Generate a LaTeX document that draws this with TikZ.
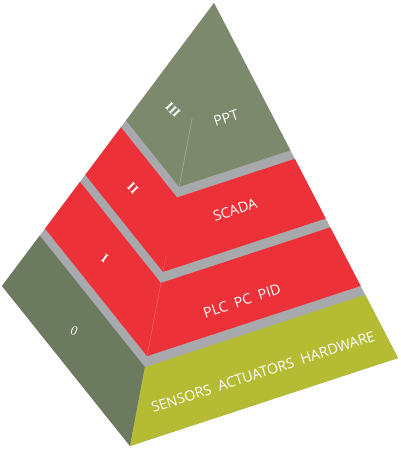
\documentclass[tikz,border=0pt]{standalone}
\usepackage{fontspec}
\setmainfont{Open Sans}
\newfontfamily\numfont{Liberation Serif}
\usetikzlibrary{calc}
\definecolor{topgreen}{RGB}{124,137,109}
\definecolor{sidegreen}{RGB}{108,122,96}
\definecolor{layerred}{RGB}{236,49,56}
\definecolor{olive}{RGB}{181,188,52}
\definecolor{stepgray}{RGB}{167,169,172}
\newcommand\pyrband[3]{\fill[#1] ($(A)!#2!(Lb)$) -- ($(A)!#2!(F)$) -- ($(A)!#2!(Rb)$) -- ($(A)!#3!(Rb)$) -- ($(A)!#3!(F)$) -- ($(A)!#3!(Lb)$) -- cycle;}
\tikzset{
  facetext/.style={text=white, font=\fontsize{14.3}{16}\selectfont, inner sep=0pt, rotate=18},
  numtext/.style={text=white, font=\numfont\bfseries\fontsize{13}{15}\selectfont, inner sep=0pt},
  ridgeline/.style={line width=0.5pt, draw=white, opacity=0.35}
}
\begin{document}
\begin{tikzpicture}[x=1pt,y=-1pt]
\useasboundingbox (0,0) rectangle (400,449);
\coordinate (A) at (214,3);
\coordinate (Lb) at (2,286);
\coordinate (F) at (130,446);
\coordinate (Rb) at (398,358);
% gray underlay
\fill[stepgray] (A) -- (Lb) -- (F) -- (Rb) -- cycle;
% layer III
\pyrband{topgreen}{0}{0.415}
% layer II
\pyrband{layerred}{0.439}{0.607}
% layer I
\pyrband{layerred}{0.632}{0.797}
% layer 0
\fill[sidegreen] ($(A)!0.822!(Lb)$) -- ($(A)!0.822!(F)$) -- (F) -- (Lb) -- cycle;
\fill[olive] ($(A)!0.822!(F)$) -- ($(A)!0.822!(Rb)$) -- (Rb) -- (F) -- cycle;
% faint ridge lines
\coordinate (r3a) at ($(A)!0.26!(F)$);
\coordinate (r3b) at ($(A)!0.415!(F)$);
\coordinate (r2a) at ($(A)!0.57!(F)$);
\coordinate (r2b) at ($(A)!0.607!(F)$);
\coordinate (r1a) at ($(A)!0.632!(F)$);
\coordinate (r1b) at ($(A)!0.797!(F)$);
\draw[ridgeline] (r3a) -- (r3b);
\draw[ridgeline, opacity=0.2] (r2a) -- (r2b);
\draw[ridgeline, opacity=0.25] (r1a) -- (r1b);
% texts
\node[facetext] (ppt) at (226,118) {PPT};
\node[facetext] (scada) at (235,210) {SCADA};
\node[facetext] (plc) at (242,301) {PLC\ \ PC\ \ PID};
\node[facetext] (sens) at (263,372) {SENSORS\ \ ACTUATORS\ \ HARDWARE};
\node[numtext, rotate=-45] (n3) at (173,110) {III};
\node[numtext, rotate=-45] (n2) at (133,188) {II};
\node[numtext, rotate=-35] (n1) at (105,258) {I};
\node[numtext, rotate=-10] (n0) at (74,331) {\mdseries\itshape 0};
\end{tikzpicture}
\end{document}
